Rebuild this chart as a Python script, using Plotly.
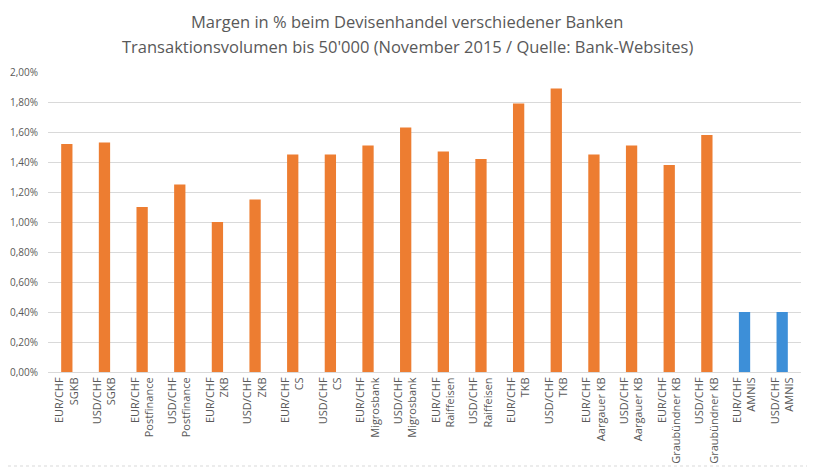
import plotly.graph_objects as go

banks = ["SGKB", "SGKB", "Postfinance", "Postfinance", "ZKB", "ZKB", "CS", "CS",
         "Migrosbank", "Migrosbank", "Raiffeisen", "Raiffeisen", "TKB", "TKB",
         "Aargauer KB", "Aargauer KB", "Graubündner KB", "Graubündner KB", "AMNIS", "AMNIS"]
pairs = ["EUR/CHF", "USD/CHF"] * 10
margins = [1.52, 1.53, 1.10, 1.25, 1.00, 1.15, 1.45, 1.45, 1.51, 1.63,
           1.47, 1.42, 1.79, 1.89, 1.45, 1.51, 1.38, 1.58, 0.40, 0.40]

title_lines = ["Margen in % beim Devisenhandel verschiedener Banken",
               "Transaktionsvolumen bis 50'000 (November 2015 / Quelle: Bank-Websites)"]

labels = [f"{p}<br>{b}" for p, b in zip(pairs, banks)]
colors = ["#ED7D31" if b != "AMNIS" else "#3D8FD8" for b in banks]
y_ticks = [i * 0.2 for i in range(11)]
y_text = [f"{v:.2f}%".replace(".", ",") for v in y_ticks]

fig = go.Figure(go.Bar(
    x=list(range(len(labels))), y=margins,
    marker=dict(color=colors, line=dict(width=0)),
    width=0.3,
))

# page body has an 8px margin, so the figure is sized to end at the window edge
fig.update_layout(
    width=807, height=460,
    margin=dict(l=40, r=14, t=64, b=96),
    paper_bgcolor="white", plot_bgcolor="white",
    font=dict(family="Open Sans, sans-serif", color="#595959", size=10),
    showlegend=False,
    annotations=[
        dict(text=title_lines[0], xref="paper", yref="paper", x=0.477, y=1 + 51 / 300,
             xanchor="center", yanchor="middle", showarrow=False,
             font=dict(size=16.5, color="#595959")),
        dict(text=title_lines[1], xref="paper", yref="paper", x=0.477, y=1 + 26 / 300,
             xanchor="center", yanchor="middle", showarrow=False,
             font=dict(size=16.5, color="#595959")),
    ],
    shapes=[
        dict(type="line", xref="paper", yref="paper", x0=1 + 13 / 753, x1=1 + 13 / 753,
             y0=-94 / 300, y1=1 + 64 / 300, line=dict(color="#D9D9D9", width=1, dash="dot")),
        dict(type="line", xref="paper", yref="paper", x0=-40 / 753, x1=1 + 13 / 753,
             y0=-94 / 300, y1=-94 / 300, line=dict(color="#D9D9D9", width=1, dash="dot")),
    ],
)
fig.update_xaxes(
    tickmode="array", tickvals=list(range(len(labels))), ticktext=labels,
    tickangle=-90, range=[-0.5, len(labels) - 0.5], automargin=False,
    showline=True, linecolor="#D9D9D9", ticks="", showgrid=False,
    tickfont=dict(size=11, color="#595959"),
)
fig.update_yaxes(
    range=[0, 2.0], tickmode="array", tickvals=y_ticks, ticktext=y_text,
    showgrid=True, gridcolor="#D9D9D9", gridwidth=1, zeroline=False, automargin=False,
    showline=False, ticks="", ticklabelstandoff=9, tickfont=dict(size=10, color="#595959"),
)

fig.write_html("out.html")
